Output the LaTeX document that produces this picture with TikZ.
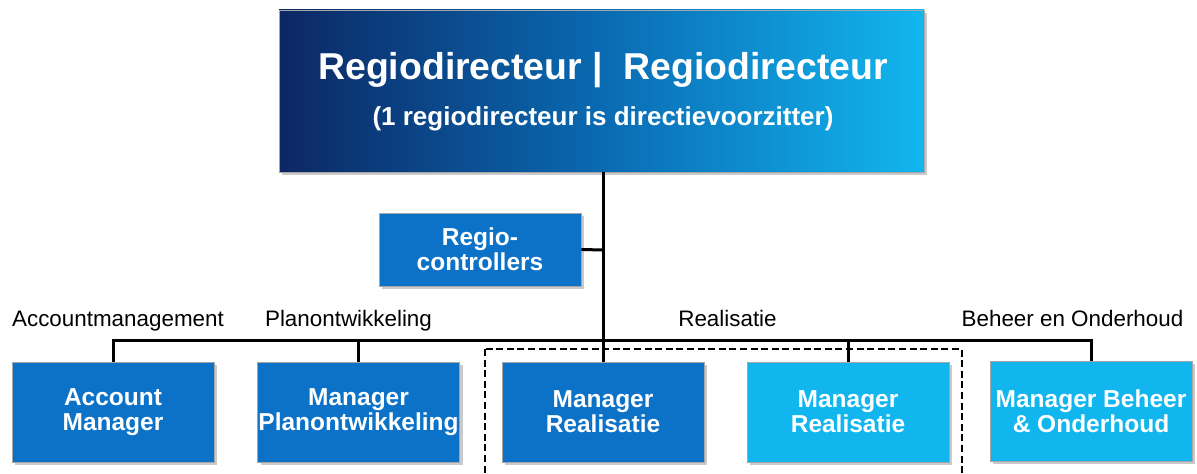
\documentclass[tikz,border=0pt]{standalone}
\usepackage{fontspec}
\setmainfont{Liberation Sans}
\usetikzlibrary{shadows}
\definecolor{navy}{HTML}{0C2763}
\definecolor{midblue}{HTML}{0A6AB2}
\definecolor{cyanbox}{HTML}{12B6EF}
\definecolor{darkbox}{HTML}{0B72C8}
\tikzset{
  x=0.5pt, y=-0.5pt,
  boxbase/.style={rectangle, inner sep=0pt, draw=black!35, line width=0.4pt,
    drop shadow={shadow xshift=1.5pt, shadow yshift=-1.5pt, opacity=0.35, fill=black!60},
    text=white, align=center, font=\fontsize{12.25}{12.6}\selectfont\bfseries},
  darkb/.style={boxbase, fill=darkbox, minimum width=101pt, minimum height=50pt},
  lightb/.style={boxbase, fill=cyanbox, minimum width=101pt, minimum height=50pt},
  conn/.style={line width=1.5pt, black},
  grouplbl/.style={font=\fontsize{11.2}{13}\selectfont, anchor=base},
}
\begin{document}
\begin{tikzpicture}
\useasboundingbox (0,0) rectangle (1197,474);
% top box
\node[boxbase, left color=navy, right color=cyanbox, middle color=midblue,
      minimum width=322.5pt, minimum height=81pt] (top) at (601.5,91) {};
\node[anchor=base, text=white, font=\fontsize{18.7}{22}\selectfont\bfseries] (toptitle) at (603,80) {Regiodirecteur |\ \ Regiodirecteur};
\node[anchor=base, text=white, font=\fontsize{13}{15}\selectfont\bfseries] (topsub) at (603,126) {(1 regiodirecteur is directievoorzitter)};
% controllers
\node[darkb, minimum height=36.5pt] (ctrl) at (480,249.5) {Regio-\\controllers};
% bottom boxes
\node[darkb] (acc) at (113,412) {Account\\Manager};
\node[darkb] (plan) at (358.5,412) {Manager\\Planontwikkeling};
\node[darkb] (real1) at (603,412) {Manager\\Realisatie};
\node[lightb] (real2) at (848,412) {Manager\\Realisatie};
\node[lightb] (beh) at (1091,411) {Manager Beheer\\\& Onderhoud};
% coordinates
\coordinate (spine) at (603,341);
\coordinate (ctrlj) at (603,250);
\coordinate (hl) at (112,341);
\coordinate (hr) at (1091,341);
% connectors
\draw[conn] (top.south -| spine) -- (spine);
\draw[conn] (ctrl.east) -- (ctrlj);
\draw[conn] (acc.north) |- (hl) -- (hr) -- (beh.north);
\draw[conn] (plan.north) -- (plan.north |- hl);
\draw[conn] (real1.north) -- (real1.north |- hl);
\draw[conn] (real2.north) -- (real2.north |- hl);
% dashed group
\coordinate (dg1) at (485,349);
\coordinate (dg2) at (962,480);
\draw[line width=1.25pt, dash pattern=on 3.5pt off 1.8pt] (dg1) rectangle (dg2);
% labels
\node[grouplbl] (lacc) at (118,327) {Accountmanagement};
\node[grouplbl] (lplan) at (348.5,327) {Planontwikkeling};
\node[grouplbl] (lreal) at (727.5,327) {Realisatie};
\node[grouplbl] (lbeh) at (1072.5,327) {Beheer en Onderhoud};
\end{tikzpicture}
\end{document}
